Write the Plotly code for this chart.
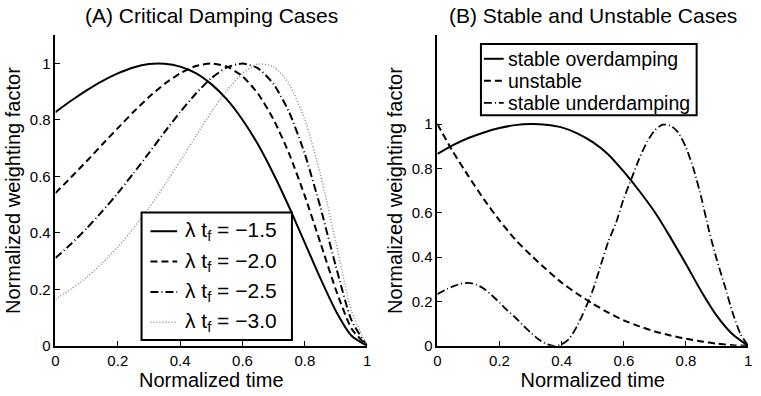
import plotly.graph_objects as go

# ---------------- data ----------------
t_a = [0.00, 0.05, 0.10, 0.15, 0.20, 0.25, 0.30, 0.35, 0.40, 0.45, 0.50,
       0.55, 0.60, 0.65, 0.70, 0.75, 0.80, 0.85, 0.90, 0.95, 1.00]

crit_15 = [0.828, 0.868, 0.905, 0.938, 0.965, 0.986, 0.998, 0.999, 0.989, 0.966, 0.927,
           0.873, 0.801, 0.713, 0.608, 0.491, 0.365, 0.239, 0.123, 0.036, 0.0]
crit_20 = [0.541, 0.597, 0.654, 0.713, 0.771, 0.828, 0.881, 0.928, 0.965, 0.991, 1.000,
           0.989, 0.955, 0.893, 0.801, 0.680, 0.531, 0.365, 0.198, 0.061, 0.0]
crit_25 = [0.311, 0.361, 0.416, 0.476, 0.541, 0.611, 0.683, 0.757, 0.828, 0.893, 0.948,
           0.986, 1.000, 0.983, 0.927, 0.827, 0.680, 0.491, 0.280, 0.090, 0.0]
crit_30 = [0.165, 0.201, 0.243, 0.293, 0.350, 0.416, 0.489, 0.569, 0.654, 0.742, 0.828,
           0.905, 0.965, 0.998, 0.989, 0.927, 0.801, 0.608, 0.365, 0.123, 0.0]
crit_names = ["λ t<sub>f</sub> = −1.5", "λ t<sub>f</sub> = −2.0",
              "λ t<sub>f</sub> = −2.5", "λ t<sub>f</sub> = −3.0"]

overdamp = [0.865, 0.905, 0.937, 0.962, 0.982, 0.995, 1.000, 0.997, 0.985, 0.958, 0.918,
            0.863, 0.785, 0.698, 0.602, 0.489, 0.369, 0.244, 0.134, 0.052, 0.0]
unstable = [1.000, 0.875, 0.765, 0.660, 0.565, 0.480, 0.410, 0.345, 0.285, 0.235, 0.190,
            0.150, 0.115, 0.088, 0.065, 0.047, 0.032, 0.020, 0.010, 0.003, 0.0]

t_b = [0.000, 0.025, 0.050, 0.075, 0.100, 0.125, 0.150, 0.175, 0.200, 0.225, 0.250,
       0.275, 0.300, 0.325, 0.350, 0.375, 0.400, 0.425, 0.450, 0.475, 0.500,
       0.525, 0.550, 0.575, 0.600, 0.625, 0.650, 0.675, 0.700, 0.725, 0.750,
       0.775, 0.800, 0.825, 0.850, 0.875, 0.900, 0.925, 0.950, 0.975, 1.000]
underdamp = [0.233, 0.252, 0.268, 0.280, 0.284, 0.276, 0.258, 0.228, 0.195, 0.160, 0.129,
             0.094, 0.060, 0.030, 0.009, 0.000, 0.007, 0.033, 0.090, 0.165, 0.250,
             0.360, 0.470, 0.555, 0.665, 0.755, 0.845, 0.920, 0.972, 0.997, 0.993,
             0.962, 0.895, 0.795, 0.665, 0.515, 0.385, 0.270, 0.150, 0.055, 0.0]
b_names = ["stable overdamping", "unstable", "stable underdamping"]

ticks = [0, 0.2, 0.4, 0.6, 0.8, 1]
tick_text = ["0", "0.2", "0.4", "0.6", "0.8", "1"]

# ---------------- figure ----------------
W, H = 761, 396
FONT = "Liberation Sans, Arial, Helvetica, sans-serif"


def px(x):
    return x / W


def py(y):
    return 1 - y / H


fig = go.Figure()

a_series = [crit_15, crit_20, crit_25, crit_30]
a_styles = [dict(color="black", width=2, dash="solid"),
            dict(color="black", width=2, dash="7px,4px"),
            dict(color="black", width=2, dash="8px,3px,1px,3px"),
            dict(color="#8a8a8a", width=1.5, dash="1px,2px")]
for ys, nm, st in zip(a_series, crit_names, a_styles):
    fig.add_trace(go.Scatter(x=t_a, y=ys, name=nm, mode="lines", showlegend=False,
                             line=dict(shape="spline", smoothing=0.6, **st),
                             xaxis="x", yaxis="y"))

b_x = [t_a, t_a, t_b]
b_series = [overdamp, unstable, underdamp]
b_styles = [dict(color="black", width=2, dash="solid"),
            dict(color="black", width=2, dash="7px,4px"),
            dict(color="black", width=1.8, dash="8px,3px,1px,3px")]
for xs, ys, nm, st in zip(b_x, b_series, b_names, b_styles):
    fig.add_trace(go.Scatter(x=xs, y=ys, name=nm, mode="lines", showlegend=False,
                             line=dict(shape="spline", smoothing=0.6, **st),
                             xaxis="x2", yaxis="y2"))

# ---------------- legends (boxes, keys and real text) ----------------
shapes, annotations = [], []


def add_legend(box, key_x, text_x, rows, names, styles, size):
    x0, y0, x1, y1 = box
    shapes.append(dict(type="rect", xref="paper", yref="paper", layer="above",
                       x0=px(x0), x1=px(x1), y0=py(y0), y1=py(y1),
                       fillcolor="white", line=dict(color="black", width=2)))
    for ry, nm, st in zip(rows, names, styles):
        shapes.append(dict(type="line", xref="paper", yref="paper", layer="above",
                           x0=px(key_x[0]), x1=px(key_x[1]), y0=py(ry), y1=py(ry),
                           line=dict(color=st["color"], width=st["width"], dash=st["dash"])))
        annotations.append(dict(text=nm, xref="paper", yref="paper", x=px(text_x), y=py(ry),
                                xanchor="left", yanchor="middle", showarrow=False,
                                font=dict(family=FONT, size=size, color="black")))


add_legend((139, 217, 291, 347), (148, 175), 181, [236, 267, 298, 329],
           crit_names, a_styles, 21)
add_legend((482, 45, 700, 117.5), (485, 505), 507, [60, 82.5, 105],
           b_names, b_styles, 19.5)

annotations += [
    dict(text="(A) Critical Damping Cases", xref="x domain", yref="paper",
         x=0.5, y=py(16), xanchor="center", yanchor="middle",
         showarrow=False, font=dict(family=FONT, size=21, color="black")),
    dict(text="(B) Stable and Unstable Cases", xref="x2 domain", yref="paper",
         x=0.5, y=py(16), xanchor="center", yanchor="middle",
         showarrow=False, font=dict(family=FONT, size=21, color="black")),
]

axis_common = dict(showgrid=False, zeroline=False, showline=True, linecolor="black",
                   linewidth=1.5, ticks="inside", ticklen=5, tickwidth=1, tickcolor="black",
                   tickfont=dict(family=FONT, size=15, color="black"),
                   tickvals=ticks, ticktext=tick_text, mirror=False)
ydom = [py(353), py(36)]

fig.update_layout(
    width=W, height=H, autosize=False,
    margin=dict(l=0, r=0, t=0, b=0),
    paper_bgcolor="white", plot_bgcolor="white",
    font=dict(family=FONT, color="black"),
    showlegend=False,
    xaxis=dict(axis_common, domain=[px(52), px(367)], range=[0, 1],
               title=dict(text="Normalized time", font=dict(size=20), standoff=2),
               anchor="y"),
    yaxis=dict(axis_common, domain=ydom, range=[0, 1.1],
               title=dict(text="Normalized weighting factor", font=dict(size=20), standoff=4),
               anchor="x"),
    xaxis2=dict(axis_common, domain=[px(438), px(752)], range=[0, 1],
                title=dict(text="Normalized time", font=dict(size=20), standoff=2),
                anchor="y2"),
    yaxis2=dict(axis_common, domain=ydom, range=[0, 1.4],
                title=dict(text="Normalized weighting factor", font=dict(size=20), standoff=4),
                anchor="x2"),
    shapes=shapes,
    annotations=annotations,
)

fig.write_html("out.html")
